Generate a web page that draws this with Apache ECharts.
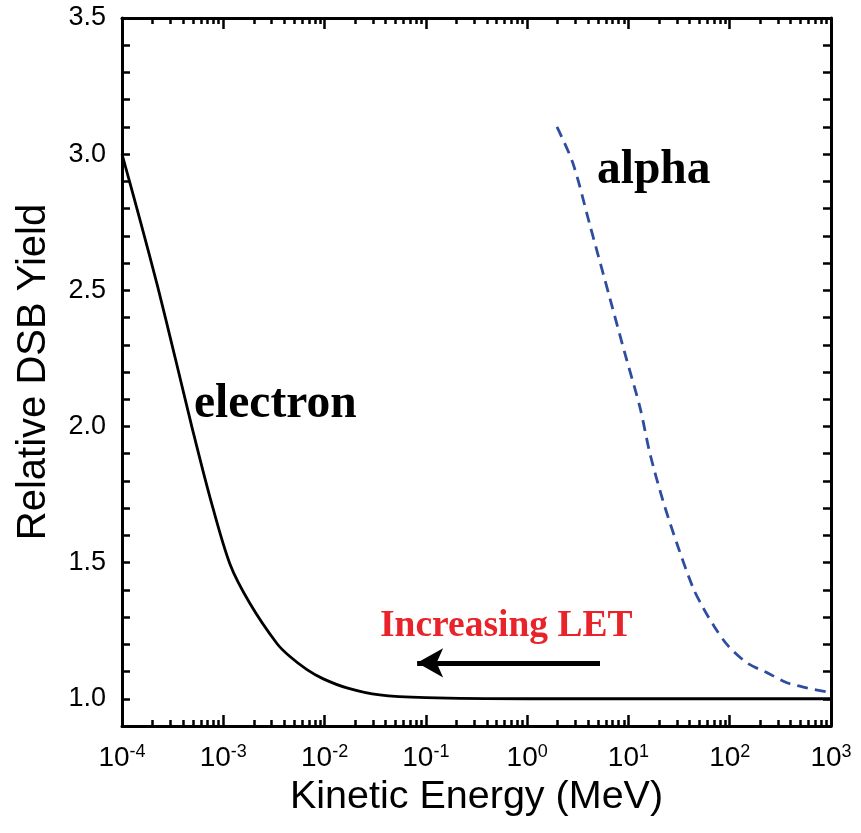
<!DOCTYPE html>
<html>
<head>
<meta charset="utf-8">
<script src="https://cdn.jsdelivr.net/npm/echarts@6/dist/echarts.min.js"></script>
<style>
  html, body { margin: 0; padding: 0; background: #fff; }
  #chart { width: 861px; height: 833px; }
</style>
</head>
<body>
<div id="chart"></div>
<script>
// electron curve (MeV, relative yield)
const electronE = [1e-4, 1.51e-4, 2.26e-4, 3.34e-4, 5.0e-4, 7.4e-4, 1.16e-3, 1.84e-3, 3.4e-3, 4.55e-3, 6.7e-3, 9.6e-3, 1.66e-2, 3.5e-2, 1e-1, 1, 10, 100, 1000]
const electronY = [3.0, 2.757, 2.511, 2.254, 1.985, 1.739, 1.496, 1.349, 1.202, 1.155, 1.107, 1.074, 1.040, 1.014, 1.004, 1.0, 1.0, 1.0, 1.0]

// alpha curve
const alphaE = [1.97, 2.83, 4.17, 6.56, 9.23, 13.0, 16.3, 21.9, 30.1, 43.4, 54.5, 71.6, 96.2, 148, 233, 367, 578, 1000]
const alphaY = [3.1, 2.967, 2.739, 2.471, 2.268, 2.07, 1.901, 1.728, 1.57, 1.408, 1.335, 1.261, 1.195, 1.132, 1.096, 1.059, 1.04, 1.022]

// "Increasing LET" arrow: from tail to head
const arrowFrom = [5.24, 1.132]
const arrowTo = [0.082, 1.132]

const xMin = 1e-4, xMax = 1e3
const yMin = 0.9, yMax = 3.5

// minor ticks of the log axis, in log10 units
const minorTicks = []
for (let d = -4; d < 3; d++) {
  for (let m = 2; m <= 9; m++) minorTicks.push(d + Math.log10(m))
}

const zip = (xs, ys) => xs.map((x, i) => [x, ys[i]])

const black = '#000'
const gridBox = { left: 122, right: 30, top: 18, bottom: 107, outerBoundsMode: 'none' }

const majorX = (pos, labels) => ({
  type: 'log', logBase: 10, gridIndex: 0, position: pos, min: xMin, max: xMax,
  axisLine: { show: true, lineStyle: { color: black, width: 3 } },
  axisTick: { show: true, inside: true, length: 11, lineStyle: { color: black, width: 2.5 } },
  splitLine: { show: false },
  axisLabel: labels ? {
    margin: 17,
    color: black,
    formatter: v => '{b|10}{s|' + Math.round(Math.log10(v)) + '}',
    rich: {
      b: { fontSize: 28, fontFamily: 'Liberation Sans', color: black, lineHeight: 30 },
      s: { fontSize: 18, fontFamily: 'Liberation Sans', color: black, lineHeight: 18, verticalAlign: 'top' },
    },
  } : { show: false },
})

const minorX = pos => ({
  type: 'value', gridIndex: 1, position: pos, min: -4, max: 3,
  axisLine: { show: false },
  axisTick: { show: true, inside: true, length: 6, customValues: minorTicks, lineStyle: { color: black, width: 2.5 } },
  axisLabel: { show: false },
  splitLine: { show: false },
})

const yAx = (pos, labels) => ({
  type: 'value', gridIndex: 0, position: pos, min: yMin, max: yMax, interval: 0.1,
  axisLine: { show: true, lineStyle: { color: black, width: 3 } },
  axisTick: { show: true, inside: true, length: 8, lineStyle: { color: black, width: 2.5 } },
  splitLine: { show: false },
  axisLabel: labels ? {
    margin: 16,
    color: black,
    fontSize: 27,
    fontFamily: 'Liberation Sans',
    formatter: v => (Math.abs(v * 2 - Math.round(v * 2)) < 1e-6 ? v.toFixed(1) : ''),
  } : { show: false },
})

const chart = echarts.init(document.getElementById('chart'))
chart.setOption({
  animation: false,
  backgroundColor: '#fff',
  grid: [gridBox, gridBox],
  xAxis: [
    Object.assign(majorX('bottom', true), {
      name: 'Kinetic Energy (MeV)', nameLocation: 'middle', nameGap: 40,
      nameTextStyle: { fontSize: 39.5, fontFamily: 'Liberation Sans', color: black },
    }),
    majorX('top', false),
    minorX('bottom'),
    minorX('top'),
  ],
  yAxis: [
    Object.assign(yAx('left', true), {
      name: 'Relative DSB Yield', nameLocation: 'middle', nameGap: 68,
      nameTextStyle: { fontSize: 40, fontFamily: 'Liberation Sans', color: black },
    }),
    yAx('right', false),
    { type: 'value', gridIndex: 1, min: 0, max: 1, show: false },
  ],
  series: [
    {
      name: 'electron', type: 'line', xAxisIndex: 0, yAxisIndex: 0,
      data: zip(electronE, electronY), showSymbol: false, smooth: 0.3,
      lineStyle: { color: black, width: 2.8 },
      markLine: {
        silent: true, symbol: ['none', 'arrow'], symbolSize: [22, 26],
        label: { show: false },
        lineStyle: { color: black, width: 5, type: 'solid' },
        data: [[{ coord: arrowFrom }, { coord: arrowTo }]],
      },
    },
    {
      name: 'alpha', type: 'line', xAxisIndex: 0, yAxisIndex: 0,
      data: zip(alphaE, alphaY), showSymbol: false, smooth: 0.3,
      lineStyle: { color: '#2E4DA0', width: 2.8, type: [11, 7] },
    },
  ],
  graphic: [
    { type: 'text', left: 194, top: 381, style: { text: 'electron', fontSize: 47.5, fontWeight: 'bold', fontFamily: 'Liberation Serif', fill: black } },
    { type: 'text', left: 597, top: 147, style: { text: 'alpha', fontSize: 47.5, fontWeight: 'bold', fontFamily: 'Liberation Serif', fill: black } },
    { type: 'text', left: 380, top: 607, style: { text: 'Increasing LET', fontSize: 37.5, fontWeight: 'bold', fontFamily: 'Liberation Serif', fill: '#E8232A' } },
  ],
})
</script>
</body>
</html>
